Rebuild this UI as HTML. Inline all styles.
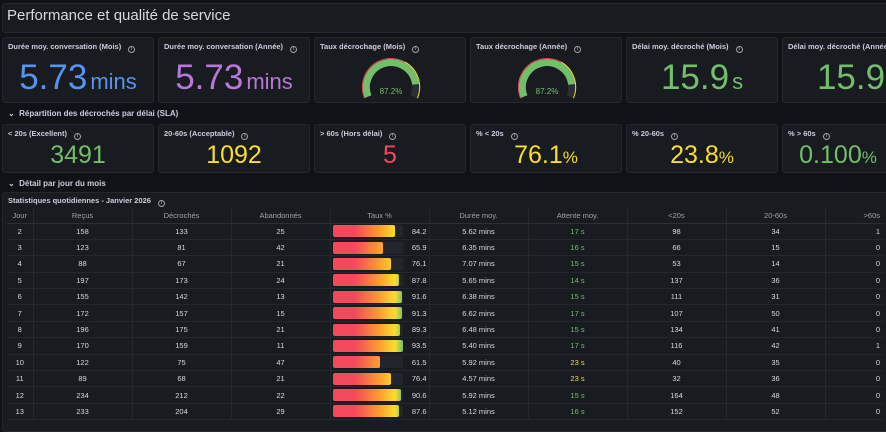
<!DOCTYPE html>
<html><head><meta charset="utf-8"><style>
*{box-sizing:border-box;margin:0;padding:0}
body{width:886px;height:423px;overflow:hidden;background:#111217;font-family:"Liberation Sans",sans-serif;color:#ccccdc;position:relative}
.p{position:absolute;background:#181b1f;border:1px solid #25282e;border-radius:3px}
.t{position:absolute;left:5px;top:4px;font-size:7.5px;color:#ccccdc;font-weight:bold;white-space:nowrap}
.t i{font-style:normal;font-weight:normal;display:inline-block;width:7px;height:7px;border:1px solid #9fa1a8;border-radius:50%;margin-left:7px;font-size:5px;text-align:center;line-height:5px;vertical-align:-1px}
.v{position:absolute;left:0;right:0;text-align:center;white-space:nowrap}
.big{top:20px;font-size:35px}
.big span{font-size:22px;margin-left:3px}
.mid{top:16px;font-size:25px}
.mid span{font-size:17px}
.sec{position:absolute;left:8px;font-size:8px;font-weight:bold;color:#ccccdc}
table{position:absolute;left:4px;top:15px;border-collapse:collapse;font-size:7.5px;color:#d8d9da}
td,th{height:16.4px;text-align:center;border-bottom:1px solid #24272d;border-right:1px solid #24272d;padding:0}
th{font-weight:normal;color:#9fa1a8;height:15px;border-bottom:1px solid #2c2f35}
tr td:last-child,tr th:last-child{border-right:none;text-align:right;padding-right:3px}
.g{color:#73bf69}.y{color:#fade2a}
.bw{display:flex;align-items:center;padding-left:2px}
.tr{width:70px;height:12px;background:#22252b;border-radius:2px;position:relative}
.b{position:absolute;left:0;top:0;height:12px;border-radius:2px;background:linear-gradient(90deg,#f2495c 0,#f2495c 22px,#ff9830 45px,#fade2a 62px,#73bf69 70px);background-size:70px 12px}
.bn{width:24px;text-align:right}
</style></head><body>
<div class="p" style="left:2px;top:3px;width:890px;height:30px"><div style="position:absolute;left:4px;top:3px;font-size:15px;color:#d8d9da">Performance et qualité de service</div></div>

<div class="p" style="left:2px;top:37px;width:152px;height:66px"><div class="t">Durée moy. conversation (Mois)<i>i</i></div><div class="v big" style="color:#5794f2">5.73<span>mins</span></div></div>
<div class="p" style="left:158px;top:37px;width:152px;height:66px"><div class="t">Durée moy. conversation (Année)<i>i</i></div><div class="v big" style="color:#b877d9">5.73<span>mins</span></div></div>
<div class="p" style="left:314px;top:37px;width:152px;height:66px"><div class="t">Taux décrochage (Mois)<i>i</i></div>
<svg style="position:absolute;left:0;top:0" width="152" height="66"><g transform="translate(76,49)">
<path d="M-26.3,11.1 A28.5,28.5 0 1 1 26.3,11.1" fill="none" stroke="#f2495c" stroke-width="1.2"/>
<path d="M14,-24.8 A28.5,28.5 0 0 1 26.3,11.1" fill="none" stroke="#fade2a" stroke-width="1.2"/>
<path d="M-22.8,9.6 A24.7,24.7 0 1 1 22.8,9.6" fill="none" stroke="#2b2e34" stroke-width="7"/>
<path d="M-22.8,9.6 A24.7,24.7 0 1 1 24.6,-2.6" fill="none" stroke="#73bf69" stroke-width="7"/>
<text x="0" y="7" text-anchor="middle" font-size="8" fill="#73bf69" font-family="Liberation Sans">87.2%</text></g></svg></div>
<div class="p" style="left:470px;top:37px;width:152px;height:66px"><div class="t">Taux décrochage (Année)<i>i</i></div>
<svg style="position:absolute;left:0;top:0" width="152" height="66"><g transform="translate(76,49)">
<path d="M-26.3,11.1 A28.5,28.5 0 1 1 26.3,11.1" fill="none" stroke="#f2495c" stroke-width="1.2"/>
<path d="M14,-24.8 A28.5,28.5 0 0 1 26.3,11.1" fill="none" stroke="#fade2a" stroke-width="1.2"/>
<path d="M-22.8,9.6 A24.7,24.7 0 1 1 22.8,9.6" fill="none" stroke="#2b2e34" stroke-width="7"/>
<path d="M-22.8,9.6 A24.7,24.7 0 1 1 24.6,-2.6" fill="none" stroke="#73bf69" stroke-width="7"/>
<text x="0" y="7" text-anchor="middle" font-size="8" fill="#73bf69" font-family="Liberation Sans">87.2%</text></g></svg></div>
<div class="p" style="left:626px;top:37px;width:152px;height:66px"><div class="t">Délai moy. décroché (Mois)<i>i</i></div><div class="v big" style="color:#73bf69">15.9<span>s</span></div></div>
<div class="p" style="left:782px;top:37px;width:152px;height:66px"><div class="t">Délai moy. décroché (Année)<i>i</i></div><div class="v big" style="color:#73bf69">15.9<span>s</span></div></div>

<div class="sec" style="top:109px">⌄&nbsp; Répartition des décrochés par délai (SLA)</div>

<div class="p" style="left:2px;top:124px;width:152px;height:49px"><div class="t">&lt; 20s (Excellent)<i>i</i></div><div class="v mid" style="color:#73bf69">3491</div></div>
<div class="p" style="left:158px;top:124px;width:152px;height:49px"><div class="t">20-60s (Acceptable)<i>i</i></div><div class="v mid" style="color:#fade2a">1092</div></div>
<div class="p" style="left:314px;top:124px;width:152px;height:49px"><div class="t">&gt; 60s (Hors délai)<i>i</i></div><div class="v mid" style="color:#f2495c">5</div></div>
<div class="p" style="left:470px;top:124px;width:152px;height:49px"><div class="t">% &lt; 20s<i>i</i></div><div class="v mid" style="color:#fade2a">76.1<span>%</span></div></div>
<div class="p" style="left:626px;top:124px;width:152px;height:49px"><div class="t">% 20-60s<i>i</i></div><div class="v mid" style="color:#fade2a">23.8<span>%</span></div></div>
<div class="p" style="left:782px;top:124px;width:152px;height:49px"><div class="t">% &gt; 60s<i>i</i></div><div class="v mid" style="color:#73bf69;left:-40px">0.100<span>%</span></div></div>

<div class="sec" style="top:179px">⌄&nbsp; Détail par jour du mois</div>

<div class="p" style="left:2px;top:192px;width:890px;height:240px"><div class="t" style="top:3px">Statistiques quotidiennes - Janvier 2026<i>i</i></div>
<table>
<colgroup><col style="width:26px"><col style="width:99px"><col style="width:99px"><col style="width:99px"><col style="width:99px"><col style="width:99px"><col style="width:99px"><col style="width:99px"><col style="width:99px"><col style="width:58px"></colgroup>
<tr><th>Jour</th><th>Reçus</th><th>Décrochés</th><th>Abandonnés</th><th>Taux %</th><th>Durée moy.</th><th>Attente moy.</th><th>&lt;20s</th><th>20-60s</th><th>&gt;60s</th></tr>
<tr><td>2</td><td>158</td><td>133</td><td>25</td><td><div class="bw"><div class="tr"><div class="b" style="width:62px"></div></div><div class="bn">84.2</div></div></td><td>5.62 mins</td><td class="g">17 s</td><td>98</td><td>34</td><td>1</td></tr>
<tr><td>3</td><td>123</td><td>81</td><td>42</td><td><div class="bw"><div class="tr"><div class="b" style="width:50px"></div></div><div class="bn">65.9</div></div></td><td>6.35 mins</td><td class="g">16 s</td><td>66</td><td>15</td><td>0</td></tr>
<tr><td>4</td><td>88</td><td>67</td><td>21</td><td><div class="bw"><div class="tr"><div class="b" style="width:58px"></div></div><div class="bn">76.1</div></div></td><td>7.07 mins</td><td class="g">15 s</td><td>53</td><td>14</td><td>0</td></tr>
<tr><td>5</td><td>197</td><td>173</td><td>24</td><td><div class="bw"><div class="tr"><div class="b" style="width:66px"></div></div><div class="bn">87.8</div></div></td><td>5.65 mins</td><td class="g">14 s</td><td>137</td><td>36</td><td>0</td></tr>
<tr><td>6</td><td>155</td><td>142</td><td>13</td><td><div class="bw"><div class="tr"><div class="b" style="width:69px"></div></div><div class="bn">91.6</div></div></td><td>6.38 mins</td><td class="g">15 s</td><td>111</td><td>31</td><td>0</td></tr>
<tr><td>7</td><td>172</td><td>157</td><td>15</td><td><div class="bw"><div class="tr"><div class="b" style="width:69px"></div></div><div class="bn">91.3</div></div></td><td>6.62 mins</td><td class="g">17 s</td><td>107</td><td>50</td><td>0</td></tr>
<tr><td>8</td><td>196</td><td>175</td><td>21</td><td><div class="bw"><div class="tr"><div class="b" style="width:67px"></div></div><div class="bn">89.3</div></div></td><td>6.48 mins</td><td class="g">15 s</td><td>134</td><td>41</td><td>0</td></tr>
<tr><td>9</td><td>170</td><td>159</td><td>11</td><td><div class="bw"><div class="tr"><div class="b" style="width:70px"></div></div><div class="bn">93.5</div></div></td><td>5.40 mins</td><td class="g">17 s</td><td>116</td><td>42</td><td>1</td></tr>
<tr><td>10</td><td>122</td><td>75</td><td>47</td><td><div class="bw"><div class="tr"><div class="b" style="width:47px"></div></div><div class="bn">61.5</div></div></td><td>5.92 mins</td><td class="y">23 s</td><td>40</td><td>35</td><td>0</td></tr>
<tr><td>11</td><td>89</td><td>68</td><td>21</td><td><div class="bw"><div class="tr"><div class="b" style="width:58px"></div></div><div class="bn">76.4</div></div></td><td>4.57 mins</td><td class="y">23 s</td><td>32</td><td>36</td><td>0</td></tr>
<tr><td>12</td><td>234</td><td>212</td><td>22</td><td><div class="bw"><div class="tr"><div class="b" style="width:68px"></div></div><div class="bn">90.6</div></div></td><td>5.92 mins</td><td class="g">15 s</td><td>164</td><td>48</td><td>0</td></tr>
<tr><td>13</td><td>233</td><td>204</td><td>29</td><td><div class="bw"><div class="tr"><div class="b" style="width:66px"></div></div><div class="bn">87.6</div></div></td><td>5.12 mins</td><td class="g">16 s</td><td>152</td><td>52</td><td>0</td></tr>
</table></div>
</body></html>
